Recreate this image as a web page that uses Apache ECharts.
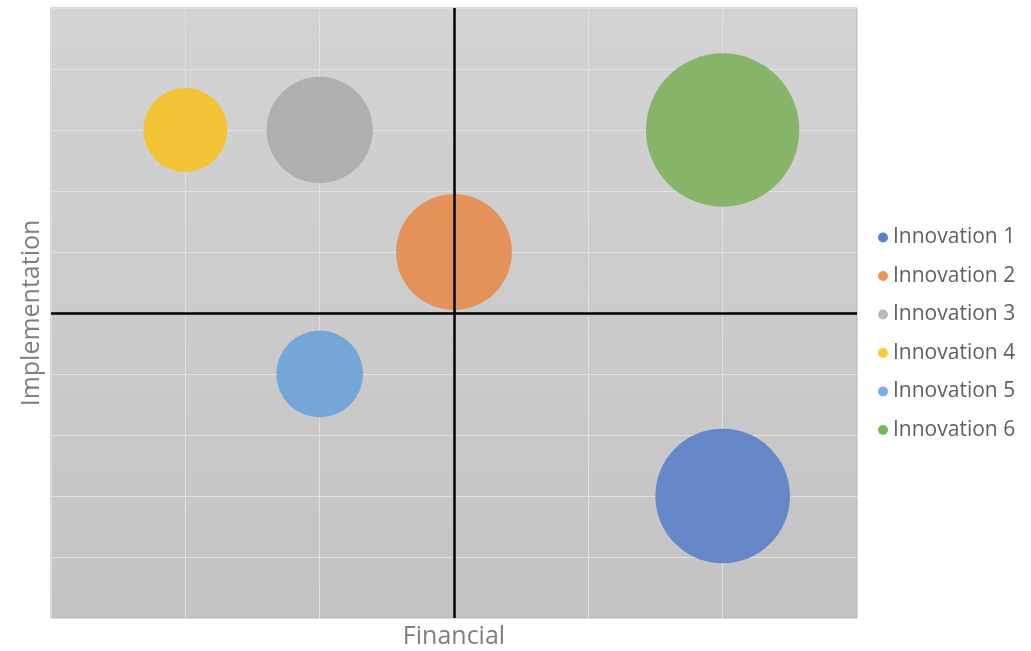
<!DOCTYPE html>
<html>
<head>
<meta charset="utf-8">
<script src="https://cdn.jsdelivr.net/npm/echarts@6/dist/echarts.min.js"></script>
<style>
  html, body { margin: 0; padding: 0; background: #ffffff; }
  #chart { width: 1031px; height: 651px; }
</style>
</head>
<body>
<div id="chart"></div>
<script>
// Innovation portfolio: financial vs implementation, bubble area = relative size
const innovations = ['Innovation 1', 'Innovation 2', 'Innovation 3', 'Innovation 4', 'Innovation 5', 'Innovation 6'];
const financial = [2, 0, -1, -2, -1, 2];
const implementation = [-3, 1, 3, 3, -1, 3];
const bubbleSize = [7.7, 5.7, 4.8, 3.0, 3.2, 10];

const bubbleColors = ['#6587c7', '#e5925a', '#afafaf', '#f2c335', '#74a6d8', '#86b56a'];
const legendColors = ['#5a7fd0', '#f0935a', '#bababa', '#ffc832', '#79afe3', '#7ab85f'];

const chart = echarts.init(document.getElementById('chart'), null, { renderer: 'canvas' });

const FONT = '"Open Sans", "Noto Sans", sans-serif';
const SIZE_SCALE = 48.5; // px of diameter per sqrt(size)

const series = innovations.map((name, i) => ({
  name: name,
  type: 'scatter',
  data: [[financial[i], implementation[i], bubbleSize[i]]],
  symbolSize: (v) => SIZE_SCALE * Math.sqrt(v[2]),
  itemStyle: { color: bubbleColors[i], opacity: 1 },
  emphasis: { disabled: true },
  z: 2
}));

// quadrant dividers through the origin
series.push({
  name: 'quadrants',
  type: 'line',
  data: [],
  silent: true,
  z: 5,
  markLine: {
    silent: true,
    symbol: ['none', 'none'],
    label: { show: false },
    lineStyle: { color: '#000000', width: 2.5, type: 'solid' },
    emphasis: { disabled: true },
    data: [{ xAxis: 0 }, { yAxis: 0 }]
  }
});

chart.setOption({
  animation: false,
  textStyle: { fontFamily: FONT },
  grid: {
    left: 51, top: 8, width: 806, height: 610,
    outerBoundsMode: 'none',
    containLabel: false,
    show: true,
    borderColor: '#adadad',
    borderWidth: 1,
    backgroundColor: {
      type: 'linear', x: 0, y: 0, x2: 0, y2: 1,
      colorStops: [
        { offset: 0, color: '#d3d3d3' },
        { offset: 1, color: '#c3c3c3' }
      ]
    }
  },
  xAxis: {
    type: 'value',
    min: -3, max: 3, interval: 1,
    name: 'Financial',
    nameLocation: 'middle',
    nameGap: 6,
    nameTextStyle: { fontSize: 25, color: '#7f7f7f', fontFamily: FONT, verticalAlign: 'top' },
    axisLine: { show: false },
    axisTick: { show: false },
    axisLabel: { show: false },
    splitLine: { show: true, lineStyle: { color: '#e0e0e0', width: 1 } }
  },
  yAxis: {
    type: 'value',
    min: -5, max: 5, interval: 1,
    name: 'Implementation',
    nameLocation: 'middle',
    nameGap: 7,
    nameTextStyle: { fontSize: 25, color: '#7f7f7f', fontFamily: FONT },
    axisLine: { show: false },
    axisTick: { show: false },
    axisLabel: { show: false },
    splitLine: { show: true, lineStyle: { color: '#e0e0e0', width: 1 } }
  },
  legend: {
    orient: 'vertical',
    left: 873,
    top: 222,
    itemWidth: 10,
    itemHeight: 10,
    itemGap: 17.5,
    icon: 'circle',
    selectedMode: false,
    textStyle: { fontSize: 21, color: '#606060', fontFamily: FONT },
    data: innovations.map((n, i) => ({ name: n, itemStyle: { color: legendColors[i] } }))
  },
  series: series
});
</script>
</body>
</html>
